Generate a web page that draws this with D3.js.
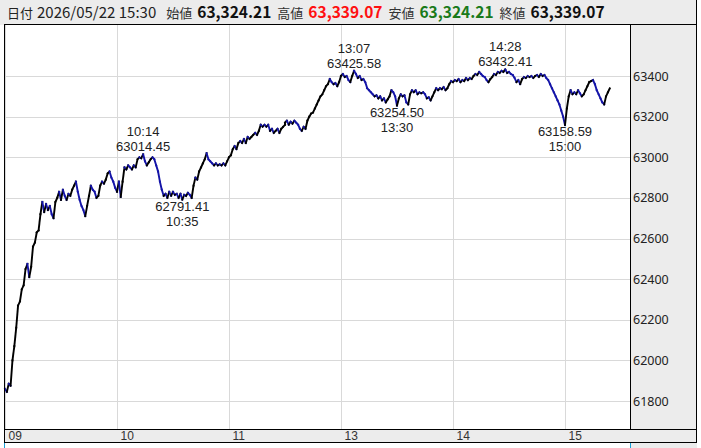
<!DOCTYPE html>
<html><head><meta charset="utf-8">
<script src="https://cdn.jsdelivr.net/npm/d3@7/dist/d3.min.js"></script>
<style>
html,body{margin:0;padding:0;background:#fff;}
svg{display:block;}
</style></head>
<body>
<svg id="chart" width="701" height="448"></svg>
<script>
// ---- data ----
const headerDate = "2026/05/22 15:30";
const headerLabels = ["始値", "高値", "安値", "終値"];
const headerValues = ["63,324.21", "63,339.07", "63,324.21", "63,339.07"];

const hourTicks = ["09", "10", "11", "13", "14", "15"];
const hourTickMinutes = [0, 60, 120, 180, 240, 300];   // session minutes
const priceTicks = [61800, 62000, 62200, 62400, 62600, 62800, 63000, 63200, 63400];

// morning 09:00 - 11:30, one value per minute
const morningStart = "09:00";
const morningPrices = [
61860,61845,61885,61875,62000,62070,62160,62270,62290,62350,
62370,62450,62475,62410,62460,62560,62580,62630,62640,62720,
62780,62730,62770,62740,62760,62720,62700,62780,62800,62830,
62790,62840,62810,62790,62820,62810,62840,62860,62880,62830,
62790,62760,62740,62710,62760,62810,62860,62840,62830,62800,
62810,62860,62880,62870,62890,62920,62930,62900,62880,62850,
62830,62880,62805,62880,62950,62940,62960,62950,62940,62960,
62950,62990,63000,62995,63014.45,62980,62960,62975,62990,63000,
62990,62960,62930,62880,62840,62810,62820,62800,62830,62810,
62830,62815,62820,62800,62820,62791.41,62815,62810,62825,62815,
62800,62860,62900,62890,62930,62950,62970,62990,63020,62990,
62980,62970,62960,62970,62960,62965,62960,62970,62960,62980,
63000,63010,63040,63055,63040,63070,63080,63070,63090,63070,
63100,63090,63100,63110,63120,63110,63130,63160,63150,63160,
63150,63160,63130,63140,63120,63130,63140,63120,63140,63150,
63160
];
// afternoon 12:30 - 15:24, one value per minute
const afternoonStart = "12:30";
const afternoonPrices = [
63170,63180,63160,63175,63165,63180,63170,63160,63140,63130,
63150,63140,63180,63200,63215,63220,63240,63260,63280,63300,
63310,63330,63350,63360,63385,63370,63360,63365,63350,63370,
63400,63410,63395,63400,63380,63370,63400,63425.58,63410,63390,
63400,63380,63385,63370,63340,63330,63320,63310,63300,63305,
63290,63300,63280,63290,63270,63285,63300,63330,63320,63300,
63254.50,63290,63310,63300,63305,63270,63260,63310,63330,63320,
63330,63310,63320,63315,63320,63310,63290,63295,63280,63300,
63320,63340,63330,63340,63335,63345,63330,63340,63360,63375,
63370,63380,63375,63385,63370,63380,63375,63390,63380,63390,
63385,63400,63410,63405,63420,63410,63400,63395,63380,63370,
63385,63395,63410,63405,63420,63415,63425,63420,63432.41,63415,
63420,63410,63405,63390,63370,63380,63360,63385,63395,63390,
63400,63395,63400,63390,63400,63405,63395,63410,63400,63405,
63390,63380,63360,63340,63320,63300,63280,63260,63230,63200,
63158.59,63240,63300,63330,63310,63320,63310,63330,63315,63300,
63310,63330,63350,63370,63375,63380,63360,63330,63310,63290,
63270,63260,63300,63320,63339.07
];

const markerTimes = ["10:14", "10:35", "13:07", "13:30", "14:28", "15:00"];
const markerPrices = [63014.45, 62791.41, 63425.58, 63254.50, 63432.41, 63158.59];
const markerKinds = ["high", "low", "high", "low", "high", "low"];

// ---- helpers ----
function toSessionMinute(hhmm) {
  const [h, m] = hhmm.split(":").map(Number);
  const abs = h * 60 + m;
  if (abs <= 11 * 60 + 30) return abs - 9 * 60;
  return 150 + (abs - (12 * 60 + 30));
}
const series = [];
const ms = toSessionMinute(morningStart);
morningPrices.forEach((v, i) => series.push({ t: ms + i, v }));
const as = toSessionMinute(afternoonStart);
afternoonPrices.forEach((v, i) => series.push({ t: as + i, v }));

// ---- layout ----
const svg = d3.select("#chart");
const L = 5, R = 631, T = 25, B = 429, AX = 697, XB = 443;
const gray = "#ececec";

const x = d3.scaleLinear().domain([0, 60]).range([L, 117]);
const y = d3.scaleLinear().domain([61800, 63400]).range([401, 76]);

// backgrounds
svg.append("rect").attr("x", 0).attr("y", 0).attr("width", 701).attr("height", 448).attr("fill", "#fff");
svg.append("rect").attr("x", 0).attr("y", 0).attr("width", AX).attr("height", T).attr("fill", gray);
svg.append("rect").attr("x", R).attr("y", T).attr("width", AX - R).attr("height", 448 - T).attr("fill", gray);
svg.append("rect").attr("x", L).attr("y", B).attr("width", AX - L).attr("height", XB - B).attr("fill", gray);

// grid
const grid = svg.append("g");
grid.selectAll("line.h").data(priceTicks).join("line")
  .attr("x1", L).attr("x2", R)
  .attr("y1", d => Math.round(y(d)) + 0.5).attr("y2", d => Math.round(y(d)) + 0.5)
  .attr("stroke", "#d9d9d9").attr("stroke-width", 1);
grid.selectAll("line.v").data(hourTickMinutes).join("line")
  .attr("x1", d => Math.round(x(d)) + 0.5).attr("x2", d => Math.round(x(d)) + 0.5)
  .attr("y1", T).attr("y2", B)
  .attr("stroke", "#d9d9d9").attr("stroke-width", 1);

// y axis labels
const yAxis = d3.axisRight(y).tickValues(priceTicks).tickSize(0).tickPadding(2).tickFormat(d3.format("d"));
const yg = svg.append("g").attr("transform", `translate(${R},0)`).call(yAxis);
yg.select(".domain").remove();
yg.selectAll("text").attr("font-family", "'Noto Sans', sans-serif").attr("font-size", 12.5).attr("fill", "#222");

// x axis labels
const xAxis = d3.axisBottom(x).tickValues(hourTickMinutes).tickSize(0).tickPadding(0)
  .tickFormat((d, i) => hourTicks[i]);
const xg = svg.append("g").attr("transform", `translate(0,${B})`).call(xAxis);
xg.select(".domain").remove();
xg.selectAll("text").attr("text-anchor", "start").attr("dx", 3).attr("dy", 0).attr("y", 11)
  .attr("font-family", "'Liberation Sans Narrow', 'Liberation Sans', sans-serif").attr("font-size", 12).attr("fill", "#333");

// price line: segments coloured by direction
const segs = [];
for (let i = 1; i < series.length; i++) segs.push([series[i - 1], series[i]]);
svg.append("g").selectAll("line").data(segs).join("line")
  .attr("x1", d => x(d[0].t)).attr("y1", d => y(d[0].v))
  .attr("x2", d => x(d[1].t)).attr("y2", d => y(d[1].v))
  .attr("stroke", d => d[1].v >= d[0].v ? "#000" : "#1414a8")
  .attr("stroke-width", 1.9).attr("stroke-linecap", "square");

// markers
const mk = svg.append("g").attr("font-family", "'Liberation Sans', 'Noto Sans', sans-serif")
  .attr("font-size", 13).attr("fill", "#222").attr("text-anchor", "middle");
markerTimes.forEach((tm, i) => {
  const px = x(toSessionMinute(tm)), py = y(markerPrices[i]);
  const val = markerPrices[i].toFixed(2);
  if (markerKinds[i] === "high") {
    mk.append("text").attr("x", px).attr("y", py - 18).text(tm);
    mk.append("text").attr("x", px).attr("y", py - 3).text(val);
  } else {
    mk.append("text").attr("x", px).attr("y", py + 11).text(val);
    mk.append("text").attr("x", px).attr("y", py + 26).text(tm);
  }
});

// frame lines
const fr = svg.append("g").attr("stroke", "#000").attr("stroke-width", 1);
fr.append("line").attr("x1", L).attr("x2", AX).attr("y1", T - 0.5).attr("y2", T - 0.5);
fr.append("line").attr("x1", L - 0.5).attr("x2", L - 0.5).attr("y1", T - 1).attr("y2", XB);
fr.append("line").attr("x1", R - 0.5).attr("x2", R - 0.5).attr("y1", T - 1).attr("y2", B);
fr.append("line").attr("x1", AX - 0.5).attr("x2", AX - 0.5).attr("y1", 0).attr("y2", XB);
fr.append("line").attr("x1", L).attr("x2", AX).attr("y1", B + 0.5).attr("y2", B + 0.5);
fr.append("line").attr("x1", L).attr("x2", AX).attr("y1", XB - 0.5).attr("y2", XB - 0.5);
svg.append("line").attr("x1", L - 0.5).attr("x2", L - 0.5).attr("y1", XB).attr("y2", 448).attr("stroke", "#19a0d8");
svg.append("line").attr("x1", R - 0.5).attr("x2", R - 0.5).attr("y1", XB).attr("y2", 448).attr("stroke", "#19a0d8");

// header
const hd = svg.append("g").attr("font-family", "'Noto Sans CJK JP', sans-serif");
const baseY = 18;
let cx = 7;
function put(txt, size, weight, color, gap) {
  const t = hd.append("text").attr("x", cx).attr("y", baseY).attr("font-size", size)
    .attr("font-weight", weight).attr("fill", color).text(txt);
  cx += t.node().getComputedTextLength() + gap;
}
put("日付", 13, "normal", "#222", 4);
put(headerDate, 15, "normal", "#222", 10);
const valColors = ["#111", "#ff1010", "#1a7a1a", "#111"];
headerLabels.forEach((lb, i) => {
  put(lb, 13, "normal", "#333", 5);
  put(headerValues[i], 15.5, "bold", valColors[i], 6);
});
</script>
</body></html>
